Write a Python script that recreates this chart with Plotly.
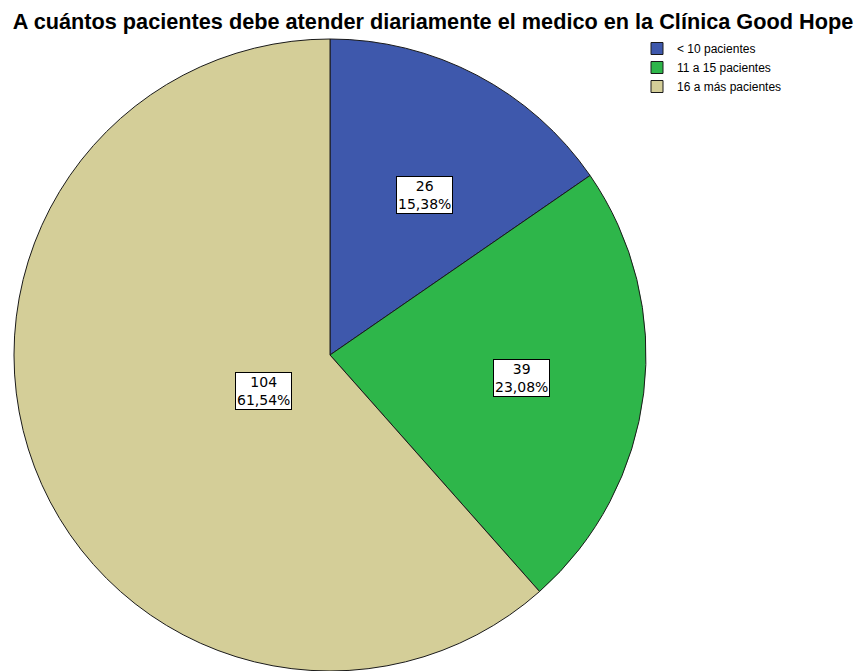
import math
import plotly.graph_objects as go

categories = ["< 10 pacientes", "11 a 15 pacientes", "16 a más pacientes"]
counts = [26, 39, 104]
colors = ["#3E58AC", "#2EB64A", "#D4CE98"]
title = "A cuántos pacientes debe atender diariamente el medico en la Clínica Good Hope"

# the page body adds an 8px margin, so the figure is drawn 8px smaller
OFF = 8
W, H = 862 - OFF, 671 - OFF


def fx(px):
    return (px - OFF) / W


def fy(py):
    return 1 - (py - OFF) / H


# pie placement in page pixels
cx, cy, R = 330, 355, 316

total = sum(counts)

fig = go.Figure()
fig.add_trace(go.Pie(
    labels=categories, values=counts, sort=False, direction="clockwise",
    rotation=0, textinfo="none", hoverinfo="label+value+percent",
    marker=dict(colors=colors, line=dict(color="#1a1a1a", width=1)),
    domain=dict(x=[fx(cx - R), fx(cx + R)], y=[max(0, fy(cy + R)), fy(cy - R)]),
))

# boxed value labels at the centroid of each slice
start = 0.0
for n in counts:
    frac = n / total
    alpha = 2 * math.pi * frac
    mid = 2 * math.pi * (start + frac / 2)
    d = 4 * R * math.sin(alpha / 2) / (3 * alpha)
    px = cx + d * math.sin(mid)
    py = cy - d * math.cos(mid)
    pct = f"{100 * frac:.2f}".replace(".", ",")
    fig.add_annotation(
        x=fx(px), y=fy(py), xref="paper", yref="paper",
        text=f"{n}<br>{pct}%", showarrow=False,
        font=dict(family="DejaVu Sans", size=14, color="#000000"),
        bgcolor="#ffffff", bordercolor="#000000", borderwidth=1, borderpad=1,
    )
    start += frac

fig.update_layout(
    width=W, height=H,
    margin=dict(l=0, r=0, t=0, b=0),
    paper_bgcolor="#ffffff", plot_bgcolor="#ffffff",
    title=dict(text=f"<b>{title}</b>", x=fx(433), xanchor="center", y=fy(21), yanchor="middle",
               font=dict(family="Liberation Sans, Arial", size=21.7, color="#000000")),
    legend=dict(x=fx(637), y=fy(34), xanchor="left", yanchor="top",
                font=dict(family="Liberation Sans, Arial", size=12, color="#000000"),
                tracegroupgap=0, itemwidth=30, bgcolor="rgba(0,0,0,0)"),
    showlegend=True,
)

fig.write_html("out.html")
